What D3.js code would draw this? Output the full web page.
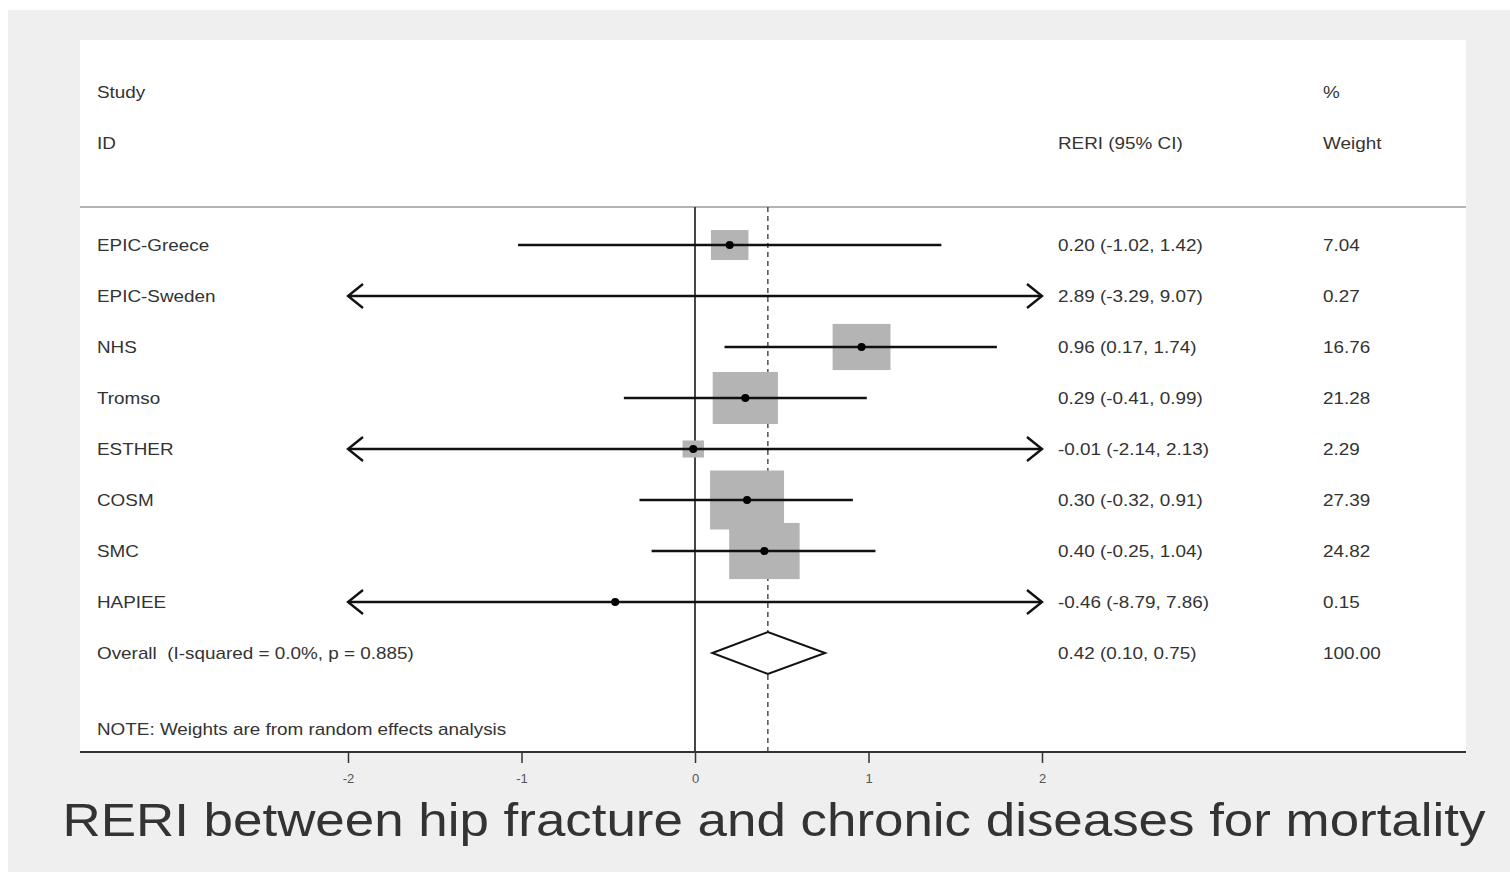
<!DOCTYPE html>
<html>
<head>
<meta charset="utf-8">
<script src="https://cdn.jsdelivr.net/npm/d3@7"></script>
<style>
  body { margin: 0; background: #fff; }
  text { font-family: "Liberation Sans", Arial, sans-serif; }
</style>
</head>
<body>
<div id="chart"></div>
<script>
// data
var studies = ["EPIC-Greece", "EPIC-Sweden", "NHS", "Tromso", "ESTHER", "COSM", "SMC", "HAPIEE"];
var estimates = [0.20, 2.89, 0.96, 0.29, -0.01, 0.30, 0.40, -0.46];
var lower = [-1.02, -3.29, 0.17, -0.41, -2.14, -0.32, -0.25, -8.79];
var upper = [1.42, 9.07, 1.74, 0.99, 2.13, 0.91, 1.04, 7.86];
var weights = [7.04, 0.27, 16.76, 21.28, 2.29, 27.39, 24.82, 0.15];
var overall = [0.42, 0.10, 0.75]; // estimate, lower, upper
var overallLabel = "Overall  (I-squared = 0.0%, p = 0.885)";
var xTicks = [-2, -1, 0, 1, 2];
var title = "RERI between hip fracture and chronic diseases for mortality";

var W = 1510, H = 872;
var stretch = 1.18; // the original picture is stretched sideways

var svg = d3.select("#chart").append("svg")
    .attr("width", W)
    .attr("height", H);

// grey frame and white plot panel
svg.append("rect").attr("x", 8).attr("y", 10).attr("width", W - 8).attr("height", H - 10)
    .attr("fill", "#efefef");
svg.append("rect").attr("x", 80).attr("y", 40).attr("width", 1386).attr("height", 712)
    .attr("fill", "#fff");

// scales
var x = d3.scaleLinear().domain([-2, 2]).range([348, 1042]);
var y = d3.scaleLinear().domain([0, 8]).range([245, 653]);
var boxW = d3.scaleSqrt().domain([0, 27.39]).range([0, 74]);
var boxH = d3.scaleSqrt().domain([0, 27.39]).range([0, 59]);

var fmt = function(v) { return v.toFixed(2); };
var txtCol = "#333";
var fs = "16px";

// text placed at (px,py), widened like the source image
function label(g, px, py, str) {
  return g.append("text")
      .attr("transform", "translate(" + px + "," + py + ") scale(" + stretch + ",1)")
      .attr("dy", "0.35em")
      .attr("xml:space", "preserve")
      .text(str);
}

// header text
var header = svg.append("g").attr("fill", txtCol).style("font-size", fs);
label(header, 97, 92, "Study");
label(header, 97, 143, "ID");
label(header, 1058, 143, "RERI (95% CI)");
label(header, 1323, 92, "%");
label(header, 1323, 143, "Weight");

svg.append("line").attr("x1", 80).attr("x2", 1466).attr("y1", 207).attr("y2", 207)
    .attr("stroke", "#9a9a9a").attr("stroke-width", 1.5);

// reference lines
svg.append("line").attr("x1", x(0)).attr("x2", x(0)).attr("y1", 207).attr("y2", 752)
    .attr("stroke", "#333").attr("stroke-width", 1.8);
svg.append("line").attr("x1", x(overall[0])).attr("x2", x(overall[0])).attr("y1", 207).attr("y2", 752)
    .attr("stroke", "#333").attr("stroke-width", 1.3).attr("stroke-dasharray", "5,4");

var rows = studies.map(function(s, i) {
  return {name: s, est: estimates[i], lo: lower[i], hi: upper[i], w: weights[i], i: i};
});
var inRange = rows.filter(function(d) { return d.est >= -2 && d.est <= 2; });

// weight boxes
svg.selectAll(".box")
    .data(inRange)
    .enter().append("rect")
    .attr("class", "box")
    .attr("x", function(d) { return x(d.est) - boxW(d.w) / 2; })
    .attr("y", function(d) { return y(d.i) - boxH(d.w) / 2; })
    .attr("width", function(d) { return boxW(d.w); })
    .attr("height", function(d) { return boxH(d.w); })
    .attr("fill", "#b4b4b4");

// confidence intervals, with arrows where they run off the scale
svg.selectAll(".ci")
    .data(rows)
    .enter().append("line")
    .attr("class", "ci")
    .attr("x1", function(d) { return x(Math.max(d.lo, -2)); })
    .attr("x2", function(d) { return x(Math.min(d.hi, 2)); })
    .attr("y1", function(d) { return y(d.i); })
    .attr("y2", function(d) { return y(d.i); })
    .attr("stroke", "#111").attr("stroke-width", 2.4);

var arrow = svg.append("g").attr("fill", "none").attr("stroke", "#111").attr("stroke-width", 2.4);
rows.forEach(function(d) {
  if (d.lo < -2) {
    var x0 = x(-2), y0 = y(d.i);
    arrow.append("path").attr("d", "M" + (x0 + 15) + "," + (y0 - 12) + "L" + x0 + "," + y0 + "L" + (x0 + 15) + "," + (y0 + 12));
  }
  if (d.hi > 2) {
    var x1 = x(2), y1 = y(d.i);
    arrow.append("path").attr("d", "M" + (x1 - 15) + "," + (y1 - 12) + "L" + x1 + "," + y1 + "L" + (x1 - 15) + "," + (y1 + 12));
  }
});

// point estimates
svg.selectAll(".pt")
    .data(inRange)
    .enter().append("circle")
    .attr("class", "pt")
    .attr("cx", function(d) { return x(d.est); })
    .attr("cy", function(d) { return y(d.i); })
    .attr("r", 4)
    .attr("fill", "#000");

// overall diamond
var yo = y(8);
svg.append("path")
    .attr("d", "M" + x(overall[1]) + "," + yo + "L" + x(overall[0]) + "," + (yo - 21) +
               "L" + x(overall[2]) + "," + yo + "L" + x(overall[0]) + "," + (yo + 21) + "Z")
    .attr("fill", "#fff").attr("stroke", "#111").attr("stroke-width", 2);

// row text
var labels = svg.append("g").attr("fill", txtCol).style("font-size", fs);
rows.forEach(function(d) {
  label(labels, 97, y(d.i), d.name);
  label(labels, 1058, y(d.i), fmt(d.est) + " (" + fmt(d.lo) + ", " + fmt(d.hi) + ")");
  label(labels, 1323, y(d.i), fmt(d.w));
});
label(labels, 97, yo, overallLabel);
label(labels, 1058, yo, fmt(overall[0]) + " (" + fmt(overall[1]) + ", " + fmt(overall[2]) + ")");
label(labels, 1323, yo, "100.00");
label(labels, 97, 729, "NOTE: Weights are from random effects analysis");

// x axis
var axis = svg.append("g")
    .attr("transform", "translate(0,752)")
    .call(d3.axisBottom(x).tickValues(xTicks).tickSize(11).tickPadding(11)
      .tickFormat(function(d) { return String(d); }));
axis.select(".domain").remove();
axis.selectAll(".tick line").attr("stroke", "#333").attr("stroke-width", 1.5);
axis.selectAll(".tick text").attr("fill", "#555").style("font-size", "13px")
    .style("font-family", "Liberation Sans, Arial, sans-serif");
svg.append("line").attr("x1", 80).attr("x2", 1466).attr("y1", 752).attr("y2", 752)
    .attr("stroke", "#333").attr("stroke-width", 2);

// title
svg.append("text")
    .attr("transform", "translate(774,836) scale(1.15,1)")
    .attr("text-anchor", "middle")
    .attr("fill", "#333")
    .style("font-size", "46px")
    .text(title);
</script>
</body>
</html>
